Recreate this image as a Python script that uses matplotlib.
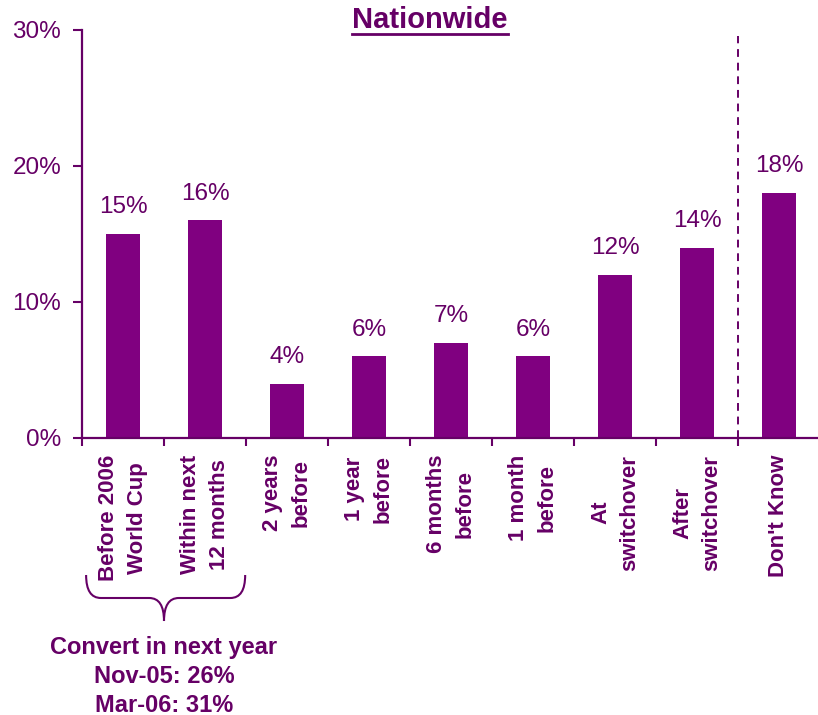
"""Nationwide: timing of digital switchover conversion (bar chart)."""

import matplotlib.pyplot as plt
import numpy as np
from matplotlib.lines import Line2D
from matplotlib.patches import PathPatch
from matplotlib.path import Path
from matplotlib.transforms import blended_transform_factory

categories = [
    "Before 2006\nWorld Cup",
    "Within next\n12 months",
    "2 years\nbefore",
    "1 year\nbefore",
    "6 months\nbefore",
    "1 month\nbefore",
    "At\nswitchover",
    "After\nswitchover",
    "Don't Know",
]
values = [15, 16, 4, 6, 7, 6, 12, 14, 18]
yticks = [0, 10, 20, 30]
note_lines = ["Convert in next year", "Nov-05: 26%", "Mar-06: 31%"]

BAR = "#800080"
INK = "#660066"

plt.rcParams["font.family"] = ["Liberation Sans", "DejaVu Sans"]

W, H = 818, 715
fig = plt.figure(figsize=(W / 100, H / 100), dpi=100)
ax = fig.add_axes([82 / W, (H - 438) / H, 738 / W, 408 / H])

x = np.arange(len(categories))
ax.bar(x, values, width=0.41, color=BAR, zorder=2)

for xi, v in zip(x, values):
    ax.annotate(f"{v}%", (xi, v), xytext=(0, 15), textcoords="offset points",
                ha="center", va="baseline", fontsize=17.5, color=INK)

ax.set_xlim(-0.5, len(categories) - 0.5)
ax.set_ylim(0, 30)
ax.set_yticks(yticks)
ax.set_yticklabels([f"{t}%" for t in yticks])

# tick marks sit on the category boundaries; labels are drawn separately
ax.set_xticks(np.arange(-0.5, len(categories), 1))
ax.set_xticklabels([])
for xi, name in zip(x, categories):
    ax.annotate(name, (xi, 0), xycoords=("data", "axes fraction"),
                xytext=(0, -12), textcoords="offset points", rotation=90,
                ha="center", va="top", multialignment="center", linespacing=1.5,
                fontsize=16, fontweight="bold", color=INK)

ax.tick_params(axis="x", direction="out", length=6, width=1.5, color=INK)
ax.tick_params(axis="y", direction="out", length=6.5, width=1.5, color=INK,
               labelsize=17.5, labelcolor=INK, pad=8.5)

for side in ("top", "right"):
    ax.spines[side].set_visible(False)
for side in ("left", "bottom"):
    ax.spines[side].set_color(INK)
    ax.spines[side].set_linewidth(1.6)

ax.axvline(7.5, ymax=0.985, color=INK, lw=1.4, ls=(0, (4, 3)), zorder=1)

# title with a drawn underline
title = fig.text(430 / W, (H - 28) / H, "Nationwide", ha="center", va="baseline",
                 fontsize=21, fontweight="bold", color=INK)
fig.canvas.draw()
bb = title.get_window_extent()
uy = (H - 34) / H
fig.add_artist(Line2D([bb.x0 / W, bb.x1 / W], [uy, uy], transform=fig.transFigure,
                      color=INK, lw=2))

# brace under the first two categories
tr = blended_transform_factory(ax.transData, fig.transFigure)
y_top, y_mid, y_tip = (H - 575) / H, (H - 598) / H, (H - 621) / H
xl, xc, xr = -0.45, 0.5, 1.49
r = 0.18
verts = [
    (xl, y_top), (xl, y_mid), (xl + r, y_mid),
    (xc - r, y_mid),
    (xc, y_mid), (xc, y_tip),
    (xc, y_mid), (xc + r, y_mid),
    (xr - r, y_mid),
    (xr, y_mid), (xr, y_top),
]
codes = [Path.MOVETO, Path.CURVE3, Path.CURVE3, Path.LINETO, Path.CURVE3, Path.CURVE3,
         Path.CURVE3, Path.CURVE3, Path.LINETO, Path.CURVE3, Path.CURVE3]
fig.add_artist(PathPatch(Path(verts, codes), transform=tr, fill=False,
                         edgecolor=INK, lw=1.5))

fig.text(0.5, (H - 636) / H, "\n".join(note_lines), transform=tr, ha="center", va="top",
         multialignment="center", fontsize=17, fontweight="bold", color=INK,
         linespacing=1.32)

fig.savefig("out.png", dpi=100)
